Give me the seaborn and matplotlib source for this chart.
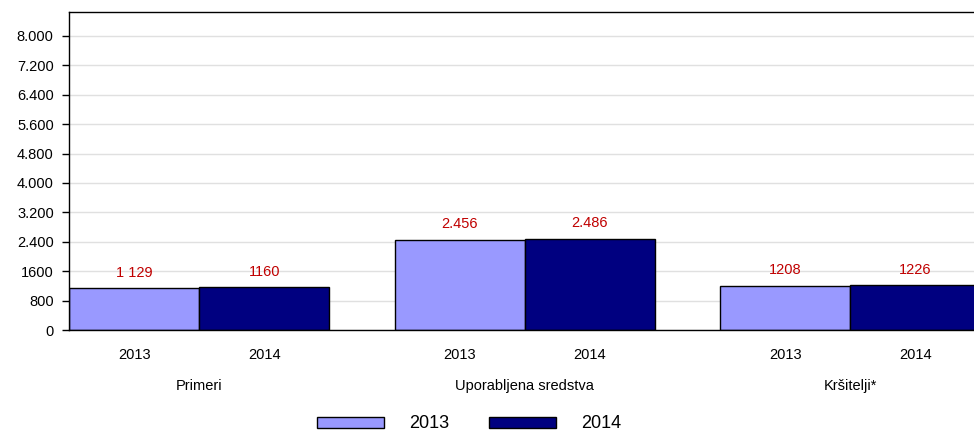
import pandas as pd
import seaborn as sns
from matplotlib import pyplot as plt
from matplotlib.patches import Patch

categories = ["Primeri", "Uporabljena sredstva", "Kršitelji*"]
years = ["2013", "2014"]
values_2013 = [1129, 2456, 1208]
values_2014 = [1160, 2486, 1226]
labels_2013 = ["1 129", "2.456", "1208"]
labels_2014 = ["1160", "2.486", "1226"]
y_ticks = [0, 800, 1600, 2400, 3200, 4000, 4800, 5600, 6400, 7200, 8000]
y_tick_labels = ["0", "800", "1600", "2.400", "3.200", "4.000", "4.800",
                 "5.600", "6.400", "7.200", "8.000"]

df = pd.DataFrame({
    "kategorija": categories * 2,
    "leto": [years[0]] * 3 + [years[1]] * 3,
    "vrednost": values_2013 + values_2014,
})

sns.set_style("white")
plt.rcParams['font.family'] = ['Liberation Sans', 'DejaVu Sans']
plt.rcParams['text.color'] = 'black'
plt.rcParams['xtick.color'] = 'black'
plt.rcParams['ytick.color'] = 'black'

fig = plt.figure(figsize=(9.74, 4.32), dpi=100)
ax = fig.add_axes([69 / 974, 1 - 330 / 432, 1 - 69 / 974, 318 / 432])

palette = {"2013": "#9999FF", "2014": "#000080"}
sns.barplot(data=df, x="kategorija", y="vrednost", hue="leto", order=categories,
            hue_order=years, palette=palette, width=0.8, saturation=1,
            edgecolor="black", linewidth=1, ax=ax, legend=False)

for cont, labs in zip(ax.containers, [labels_2013, labels_2014]):
    ax.bar_label(cont, labels=labs, padding=6, color="#C00000", fontsize=10.5)

ax.set_ylim(0, 8650)
ax.set_xlim(-0.4, 2.38)
ax.set_yticks(y_ticks)
ax.set_yticklabels(y_tick_labels, fontsize=10.5)
ax.yaxis.grid(True, color="#E0E0E0", linewidth=1)
ax.set_axisbelow(True)
ax.tick_params(axis="y", length=5, width=1, color="black", left=True, pad=6)

# year labels under each bar
xt = []
xl = []
for cont, yr in zip(ax.containers, years):
    for p in cont.patches:
        xt.append(p.get_x() + p.get_width() / 2)
        xl.append(yr)
ax.set_xticks(xt)
ax.set_xticklabels(xl, fontsize=10.5)
ax.tick_params(axis="x", length=0, pad=13)
ax.set_xlabel("")
ax.set_ylabel("")

for i, c in enumerate(categories):
    ax.text(i, -56 / 318, c, transform=ax.get_xaxis_transform(), ha="center",
            va="center", fontsize=10.5)

for s in ["left", "bottom", "top"]:
    ax.spines[s].set_color("black")
    ax.spines[s].set_linewidth(1)
ax.spines["right"].set_visible(False)

handles = [Patch(facecolor=palette[y], edgecolor="black", linewidth=1) for y in years]
fig.legend(handles, years, loc="center", bbox_to_anchor=(469 / 974, 1 - 424 / 432),
           ncol=2, frameon=False, fontsize=13, handlelength=3.7, handleheight=0.55,
           handletextpad=1.4, columnspacing=2.2)

fig.savefig("out.png", dpi=100)
